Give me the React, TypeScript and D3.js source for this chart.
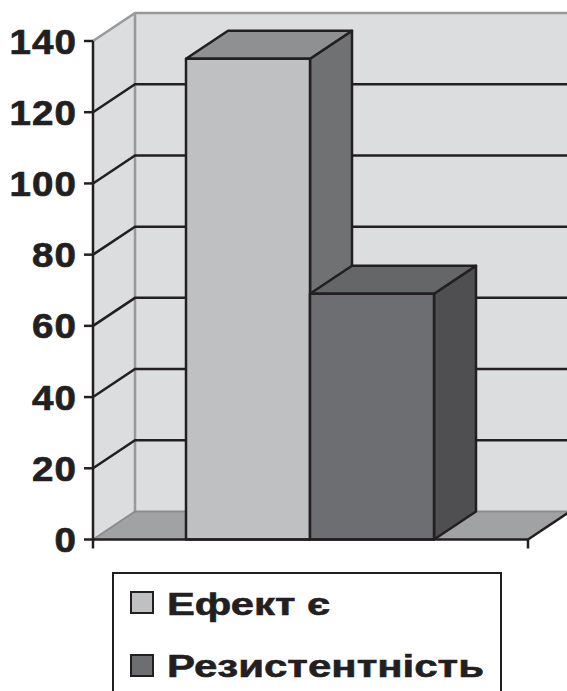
import React from "react";
import * as d3 from "d3";

const categories = [""];
const seriesNames = ["Ефект є", "Резистентність"];
const seriesValues = [135, 69];
const yTicks = [0, 20, 40, 60, 80, 100, 120, 140];

const W = 567;
const H = 691;
const frontColors = ["#bfc0c2", "#6d6e71"];
const topColors = ["#8f9092", "#656668"];
const sideColors = ["#707173", "#4f4f51"];
const legendWidths = [163, 317];
const ink = "#231f20";
const font = "'Liberation Sans', Arial, sans-serif";

export default function App() {
  const x0 = 93;
  const x1 = 528;
  const dx = 42;
  const dy = -28;
  const y = d3.scaleLinear().domain([0, 140]).range([539.5, 41]);
  const cat = d3.scaleBand().domain(categories).range([x0, x1]);
  const ser = d3
    .scaleBand()
    .domain(seriesNames)
    .range([cat(categories[0])! + 93, cat(categories[0])! + cat.bandwidth() - 94]);

  const y0 = y(0);
  const yTop = y(140);
  const pts = (a: number[][]) => a.map((p) => p.join(",")).join(" ");

  return (
    <svg width={W} height={H} style={{ position: "absolute", left: 0, top: 0, background: "#fff" }}>
      {/* left wall */}
      <polygon points={pts([[x0, y0], [x0 + dx, y0 + dy], [x0 + dx, yTop + dy], [x0, yTop]])} fill="#dcdddf" />
      {/* back wall */}
      <polygon points={pts([[x0 + dx, y0 + dy], [W + 10, y0 + dy], [W + 10, yTop + dy], [x0 + dx, yTop + dy]])} fill="#dcdddf" />
      {/* floor */}
      <polygon points={pts([[x0, y0], [x1, y0], [x1 + dx, y0 + dy], [x0 + dx, y0 + dy]])} fill="#a1a2a4" />
      {/* wall edges */}
      <polyline points={pts([[x0, yTop], [x0 + dx, yTop + dy], [W + 10, yTop + dy]])} fill="none" stroke="#98999b" strokeWidth={2.5} />
      <line x1={x0 + dx} y1={yTop + dy} x2={x0 + dx} y2={y0 + dy} stroke="#98999b" strokeWidth={2.5} />
      <polyline points={pts([[x0, y0], [x0 + dx, y0 + dy], [W + 10, y0 + dy]])} fill="none" stroke="#8c8d8f" strokeWidth={2} />
      {/* gridlines */}
      {yTicks.filter((v) => v > 0 && v < 140).map((v) => (
        <polyline key={v} points={pts([[x0, y(v)], [x0 + dx, y(v) + dy], [W + 10, y(v) + dy]])} fill="none" stroke={ink} strokeWidth={2.5} />
      ))}
      {/* bars */}
      {seriesNames.map((s, i) => {
        const bx = ser(s)!;
        const bw = ser.bandwidth();
        const by = y(seriesValues[i]);
        return (
          <g key={s} stroke={ink} strokeWidth={2.5} strokeLinejoin="round">
            <polygon points={pts([[bx + bw, by], [bx + bw + dx, by + dy], [bx + bw + dx, y0 + dy], [bx + bw, y0]])} fill={sideColors[i]} />
            <polygon points={pts([[bx, by], [bx + dx, by + dy], [bx + bw + dx, by + dy], [bx + bw, by]])} fill={topColors[i]} />
            <rect x={bx} y={by} width={bw} height={y0 - by} fill={frontColors[i]} />
          </g>
        );
      })}
      {/* floor front edge & right diagonal */}
      <line x1={x0} y1={y0} x2={x1} y2={y0} stroke={ink} strokeWidth={2.5} />
      <line x1={x1} y1={y0} x2={x1 + dx} y2={y0 + dy} stroke={ink} strokeWidth={2.5} />
      <line x1={x0} y1={y0} x2={x0} y2={y0 + 9} stroke={ink} strokeWidth={2.5} />
      <line x1={x1} y1={y0} x2={x1} y2={y0 + 9} stroke={ink} strokeWidth={2.5} />
      {/* y axis */}
      <line x1={x0} y1={yTop} x2={x0} y2={y0} stroke={ink} strokeWidth={2.5} />
      {yTicks.map((v) => (
        <g key={v}>
          <line x1={x0 - 9} y1={y(v)} x2={x0} y2={y(v)} stroke={ink} strokeWidth={2.5} />
          <g transform={`translate(77,${y(v) + 12.5}) scale(1.1,1)`}>
            <text x={0} y={0} textAnchor="end" fontFamily={font} fontWeight="bold" fontSize={35} letterSpacing={1} stroke={ink} strokeWidth={0.7} fill={ink}>
              {v}
            </text>
          </g>
        </g>
      ))}
      {/* legend */}
      <rect x={113} y={573} width={388} height={140} fill="#fff" stroke={ink} strokeWidth={2} />
      {seriesNames.map((s, i) => (
        <g key={s}>
          <rect x={131} y={592 + i * 63} width={22} height={21} fill={frontColors[i]} stroke={ink} strokeWidth={2} />
          <text x={167} y={615 + i * 62} fontFamily={font} fontWeight="bold" fontSize={32} textLength={legendWidths[i]} lengthAdjust="spacingAndGlyphs" stroke={ink} strokeWidth={0.6} fill={ink}>
            {s}
          </text>
        </g>
      ))}
    </svg>
  );
}
